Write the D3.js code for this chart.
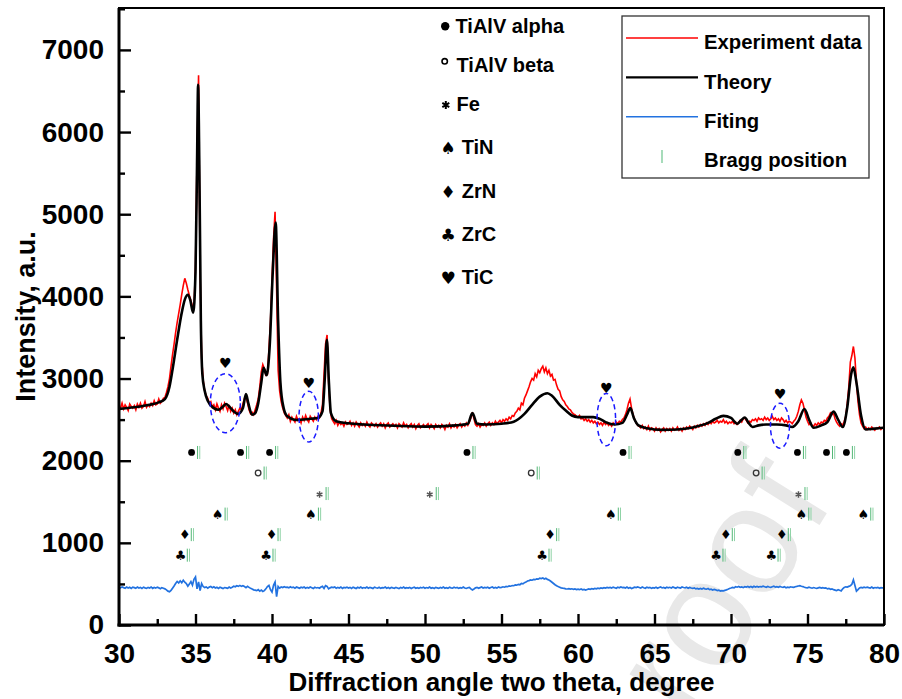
<!DOCTYPE html>
<html><head><meta charset="utf-8">
<script src="https://cdn.jsdelivr.net/npm/d3@7"></script>
<style>
body{margin:0;background:#fff}
svg{display:block}
text{font-family:"Liberation Sans",Arial,Helvetica,sans-serif;font-weight:bold}
</style>
</head><body>
<svg id="chart" width="902" height="699"></svg>
<script>
// ---------------- DATA ----------------
const angleStart = 30, angleStep = 0.1, angleCount = 501;

const experiment = [
2660,2640,2700,2630,2680,2650,2610,2690,2660,2640,
2670,2620,2690,2650,2700,2640,2660,2720,2650,2680,
2660,2700,2670,2730,2680,2690,2750,2700,2720,2760,
2770,2830,2900,3000,3150,3290,3420,3560,3680,3790,
3900,4020,4130,4220,4160,4080,4010,3950,3880,3870,
4350,5700,6690,4300,3250,2980,2850,2790,2760,2700,
2720,2650,2680,2620,2690,2640,2600,2680,2630,2700,
2660,2610,2680,2600,2640,2580,2620,2560,2600,2640,
2620,2690,2760,2780,2700,2620,2570,2590,2560,2620,
2680,2750,2900,3080,3170,3120,3040,3050,3350,3700,
4200,4700,5030,4100,3100,2850,2720,2640,2580,2550,
2520,2560,2480,2530,2500,2470,2540,2490,2510,2460,
2530,2490,2550,2500,2470,2540,2510,2480,2530,2500,
2540,2520,2580,2680,3050,3420,3530,2950,2620,2510,
2480,2450,2490,2430,2470,2440,2460,2420,2470,2440,
2450,2480,2430,2460,2420,2470,2440,2410,2460,2430,
2450,2420,2470,2430,2410,2460,2440,2420,2450,2410,
2440,2460,2420,2450,2400,2440,2460,2410,2430,2450,
2420,2440,2400,2450,2430,2410,2460,2420,2440,2400,
2430,2450,2410,2440,2390,2430,2450,2400,2420,2440,
2410,2430,2450,2400,2440,2420,2390,2440,2410,2430,
2400,2440,2420,2380,2430,2410,2450,2400,2430,2410,
2440,2400,2430,2450,2410,2440,2420,2460,2430,2470,
2520,2590,2510,2440,2420,2450,2410,2440,2430,2460,
2420,2450,2470,2430,2460,2440,2480,2450,2470,2490,
2460,2500,2480,2510,2490,2530,2510,2550,2540,2580,
2600,2640,2620,2700,2680,2760,2800,2850,2900,2960,
3000,2980,3060,3020,3100,3070,3120,3150,3080,3130,
3060,3100,3030,3050,2980,2990,2920,2870,2850,2780,
2740,2720,2680,2660,2630,2620,2590,2570,2560,2540,
2530,2550,2510,2520,2490,2510,2480,2500,2470,2490,
2460,2480,2450,2470,2440,2460,2430,2470,2440,2460,
2430,2450,2420,2460,2440,2470,2450,2480,2470,2500,
2520,2560,2620,2700,2750,2640,2560,2500,2460,2430,
2420,2400,2430,2390,2410,2380,2420,2370,2400,2390,
2360,2400,2370,2390,2350,2380,2400,2360,2390,2370,
2390,2360,2400,2370,2380,2410,2370,2390,2360,2400,
2380,2410,2390,2420,2400,2380,2420,2400,2430,2410,
2440,2420,2450,2430,2460,2440,2470,2450,2480,2460,
2470,2490,2460,2480,2470,2500,2460,2480,2450,2470,
2460,2480,2450,2470,2440,2460,2490,2470,2510,2520,
2490,2460,2480,2470,2500,2490,2510,2480,2520,2500,
2510,2490,2530,2500,2520,2490,2510,2540,2500,2520,
2490,2510,2480,2520,2500,2470,2490,2460,2480,2470,
2450,2480,2500,2540,2600,2680,2740,2700,2620,2530,
2480,2440,2460,2430,2420,2450,2430,2460,2440,2470,
2460,2490,2480,2520,2540,2580,2560,2580,2510,2470,
2440,2420,2450,2430,2480,2540,2700,2900,3200,3280,
3390,3250,2950,2720,2560,2460,2420,2390,2410,2380,
2400,2380,2410,2390,2370,2400,2390,2410,2380,2400,
2390];

const fitting = [
458,452,464,455,447,462,450,459,446,461,
455,447,463,451,458,444,460,452,446,458,
451,463,446,456,449,461,452,441,455,448,
440,428,412,405,422,448,475,505,530,512,
538,515,545,520,505,472,498,528,485,555,
585,440,525,420,505,468,455,463,448,461,
468,455,466,451,460,446,459,452,443,456,
452,446,462,451,459,472,465,478,470,482,
470,478,468,455,470,458,446,438,428,424,
418,430,412,425,408,418,440,468,482,430,
400,482,522,345,470,448,462,455,465,457,
460,452,466,455,461,449,463,455,447,460,
452,462,448,458,450,463,454,445,459,451,
456,448,462,470,445,480,470,440,452,460,
455,462,448,458,451,463,446,457,452,460,
450,458,446,461,452,445,459,451,463,448,
456,450,462,447,458,452,445,460,453,448,
459,446,455,451,462,448,456,444,458,452,
447,458,451,443,456,449,461,447,454,450,
458,445,453,460,448,455,446,457,451,459,
448,456,450,462,447,455,444,458,452,446,
457,451,463,448,455,446,459,452,448,460,
451,457,446,455,449,462,450,445,453,458,
440,426,438,452,458,447,455,462,450,457,
452,460,448,456,463,451,458,449,462,455,
458,465,460,470,466,475,472,480,478,488,
485,495,490,505,500,515,522,535,540,548,
545,555,552,562,558,570,565,572,560,568,
555,548,535,520,505,490,478,468,460,452,
448,445,440,438,442,436,441,434,439,432,
436,430,438,428,434,426,433,440,435,442,
438,446,440,448,443,451,446,455,449,457,
452,458,450,461,454,447,459,452,462,455,
458,450,462,448,456,445,452,460,455,463,
457,449,462,454,447,460,452,458,446,455,
450,459,447,456,462,451,457,448,460,453,
459,451,463,455,448,461,454,450,462,456,
452,460,448,457,450,445,452,440,446,438,
445,438,447,440,436,444,430,436,425,432,
428,420,425,414,418,415,422,428,435,445,
450,458,452,465,460,468,458,463,455,466,
462,470,460,468,458,472,463,470,461,468,
464,472,466,460,470,463,458,466,472,461,
467,460,470,463,458,466,452,460,455,465,
460,458,466,470,475,478,472,468,460,455,
452,460,454,448,456,450,445,452,458,450,
455,448,452,440,446,435,440,430,425,418,
430,422,415,440,458,465,462,470,478,495,
550,480,412,430,450,458,452,460,454,461,
455,450,462,448,456,452,458,447,455,451,
452];

const theory = [
[30.0,2630],[31.0,2650],[32.0,2680],[32.6,2710],[33.0,2750],[33.3,2900],[33.5,3110],
[33.8,3470],[34.1,3800],[34.3,3960],[34.5,4020],[34.65,3960],[34.85,3800],[35.0,4300],
[35.1,5600],[35.17,6575],[35.25,5600],[35.35,3700],[35.45,3050],[35.6,2850],[35.8,2730],
[36.2,2640],[36.5,2620],[36.8,2660],[37.0,2690],[37.2,2660],[37.5,2600],[37.8,2570],
[38.1,2640],[38.3,2810],[38.45,2700],[38.7,2560],[38.9,2580],[39.1,2700],[39.3,2950],
[39.45,3130],[39.65,3040],[39.85,3400],[40.05,4300],[40.24,4900],[40.4,3700],[40.55,2950],
[40.75,2650],[41.0,2540],[41.6,2495],[42.5,2510],[43.0,2520],[43.3,2600],[43.45,3000],
[43.59,3470],[43.72,2950],[43.85,2580],[44.2,2480],[45.0,2455],[46.0,2440],[48.0,2425],
[50.0,2415],[52.0,2430],[52.8,2450],[53.1,2580],[53.4,2450],[54.0,2440],[55.0,2450],
[55.8,2475],[56.5,2570],[57.0,2680],[57.5,2780],[58.0,2820],[58.3,2790],[58.8,2680],
[59.2,2610],[59.6,2550],[60.0,2530],[61.0,2530],[61.4,2510],[61.8,2470],[62.4,2440],
[62.9,2460],[63.2,2560],[63.42,2640],[63.65,2520],[63.95,2430],[64.5,2395],[65.5,2375],
[66.5,2380],[67.5,2405],[68.5,2460],[69.0,2510],[69.5,2545],[70.0,2520],[70.4,2450],
[70.65,2490],[70.9,2525],[71.15,2460],[71.4,2410],[71.8,2430],[72.3,2440],[73.0,2440],
[73.6,2430],[74.0,2410],[74.4,2480],[74.8,2630],[75.1,2500],[75.4,2400],[75.9,2430],
[76.3,2470],[76.7,2597],[77.0,2500],[77.3,2410],[77.6,2650],[77.85,3050],[78.0,3137],
[78.2,2950],[78.5,2550],[78.8,2380],[79.2,2385],[79.6,2395],[80.0,2400]];

const xTicks = [30,35,40,45,50,55,60,65,70,75,80];
const xMinorTicks = [32.5,37.5,42.5,47.5,52.5,57.5,62.5,67.5,72.5,77.5];
const yTicks = [0,1000,2000,3000,4000,5000,6000,7000];
const yMinorTicks = [500,1500,2500,3500,4500,5500,6500,7500];

const seriesNames = ["Experiment data","Theory","Fiting","Bragg position"];
const seriesColors = ["#ff0000","#000000","#2272e0","#6cc48c"];

const phaseNames = ["TiAlV alpha","TiAlV beta","Fe","TiN","ZrN","ZrC","TiC"];
const phaseSymbols = ["●","○","*","♠","♦","♣","♥"];
// Bragg reflection positions (2θ) for each phase, drawn in rows
const braggRows = [
  [35.2,38.4,40.3,53.2,63.4,70.9,74.8,76.7,78.0],   // TiAlV alpha
  [39.55,57.4,72.1],                                // TiAlV beta
  [43.6,50.8,74.9],                                 // Fe
  [37.0,43.1,62.7,75.15,79.2],                      // TiN
  [34.79,40.46,58.67,70.15,73.81],                  // ZrN
  [34.53,40.13,58.17,69.54,73.14]                   // ZrC
];
const braggRowLevels = [2100,1850,1600,1350,1100,850];
// TiC markers (heart) and dashed ellipses
const ticAngles = [36.95,42.4,61.85,73.2];
const ticHeartLevels = [3190,2940,2880,2810];
const ticEllipseLevels = [2700,2536,2500,2425];

// ---------------- CHART ----------------
const svg = d3.select("#chart");
const L = 119, R = 884, T = 8, B = 625;
const x = d3.scaleLinear().domain([30,80]).range([L,R]);
const y = d3.scaleLinear().domain([0,7510]).range([B,T]);

// watermark
svg.append("text").text("proof")
  .attr("transform","translate(835,500) rotate(-58)")
  .attr("text-anchor","end")
  .style("font-weight","normal").style("font-size","155px").style("fill","#e8e8e8");

const angles = d3.range(angleCount).map(i => +(angleStart + i*angleStep).toFixed(1));
const expData = angles.map((a,i)=>[a,experiment[i]]);
const fitData = angles.map((a,i)=>[a,fitting[i]]);

svg.append("clipPath").attr("id","clip").append("rect")
  .attr("x",L).attr("y",T).attr("width",R-L).attr("height",B-T);
const plot = svg.append("g").attr("clip-path","url(#clip)");

const line = d3.line().x(d=>x(d[0])).y(d=>y(d[1]));
plot.append("path").datum(fitData).attr("d",line)
  .attr("fill","none").attr("stroke",seriesColors[2]).attr("stroke-width",1.7);
plot.append("path").datum(expData).attr("d",line)
  .attr("fill","none").attr("stroke",seriesColors[0]).attr("stroke-width",1.6);
plot.append("path").datum(theory).attr("d",d3.line().x(d=>x(d[0])).y(d=>y(d[1])).curve(d3.curveMonotoneX))
  .attr("fill","none").attr("stroke",seriesColors[1]).attr("stroke-width",2.6).attr("stroke-linejoin","round");

// Bragg rows
const symbolOffset = [7,7,7.5,8.5,7.5,7.8];
braggRows.forEach((row,ri)=>{
  const g = svg.append("g");
  const cy = y(braggRowLevels[ri]);
  row.forEach(a=>{
    const cx = x(a);
    g.append("line").attr("x1",cx-1).attr("x2",cx-1).attr("y1",cy-6.5).attr("y2",cy+6.5)
      .attr("stroke","#55b878").attr("stroke-width",1);
    g.append("line").attr("x1",cx+1.2).attr("x2",cx+1.2).attr("y1",cy-6.5).attr("y2",cy+6.5)
      .attr("stroke","#8fd3a6").attr("stroke-width",1);
    const sx = cx - symbolOffset[ri];
    if (ri===0) g.append("circle").attr("cx",sx).attr("cy",cy).attr("r",3.4).attr("fill","#000");
    else if (ri===1) g.append("circle").attr("cx",sx).attr("cy",cy).attr("r",2.8).attr("fill","none").attr("stroke","#333").attr("stroke-width",1.3);
    else if (ri===2) g.append("path").attr("d",d3.symbol(d3.symbolAsterisk,30)()).attr("transform",`translate(${sx},${cy+1})`).attr("stroke","#555").attr("stroke-width",1.5);
    else g.append("text").text(phaseSymbols[ri]).attr("x",sx).attr("y",cy+4.5)
      .attr("text-anchor","middle").style("font-family","DejaVu Sans").style("font-size","13px").style("font-weight","normal");
  });
});

// TiC hearts and ellipses
const ellipseR = [[15,29.5],[9.7,25.3],[9.3,26.2],[9.5,22.5]];
ticAngles.forEach((a,i)=>{
  svg.append("ellipse").attr("cx",x(a)).attr("cy",y(ticEllipseLevels[i]))
    .attr("rx",ellipseR[i][0]).attr("ry",ellipseR[i][1])
    .attr("fill","none").attr("stroke","#1a1aff").attr("stroke-width",1.5).attr("stroke-dasharray","5,3.5");
  svg.append("text").text(phaseSymbols[6]).attr("x",x(a)).attr("y",y(ticHeartLevels[i])+5)
    .attr("text-anchor","middle").style("font-family","DejaVu Sans").style("font-size","14px").style("font-weight","normal");
});

// Axes
const yAxis = svg.append("g").attr("transform",`translate(${L},0)`)
  .call(d3.axisLeft(y).tickValues(yTicks).tickSize(-12).tickSizeOuter(0).tickPadding(15).tickFormat(d3.format("d")));
const yMinor = svg.append("g").attr("transform",`translate(${L},0)`)
  .call(d3.axisLeft(y).tickValues(yMinorTicks).tickSize(-6).tickSizeOuter(0).tickFormat(""));
const xAxis = svg.append("g").attr("transform",`translate(0,${B})`)
  .call(d3.axisBottom(x).tickValues(xTicks).tickSize(-11).tickSizeOuter(0).tickPadding(18).tickFormat(d3.format("d")));
const xMinor = svg.append("g").attr("transform",`translate(0,${B})`)
  .call(d3.axisBottom(x).tickValues(xMinorTicks).tickSize(-6).tickSizeOuter(0).tickFormat(""));
[yAxis,yMinor,xAxis,xMinor].forEach(g=>{
  g.selectAll(".tick line").attr("stroke","#000").attr("stroke-width",2.4);
  g.selectAll(".tick text").attr("fill","#000").style("font-size","28px").attr("font-family",null);
  g.select(".domain").remove();
});
svg.append("rect").attr("x",L).attr("y",T).attr("width",R-L).attr("height",B-T)
  .attr("fill","none").attr("stroke","#000").attr("stroke-width",2);
svg.append("line").attr("x1",L).attr("x2",L).attr("y1",T).attr("y2",B+1.5).attr("stroke","#000").attr("stroke-width",3);
svg.append("line").attr("x1",L-1.5).attr("x2",R).attr("y1",B).attr("y2",B).attr("stroke","#000").attr("stroke-width",3);

// Axis titles
svg.append("text").text("Diffraction angle two theta, degree")
  .attr("x",(L+R)/2).attr("y",691).attr("text-anchor","middle").style("font-size","26px");
svg.append("text").text("Intensity, a.u.")
  .attr("transform",`translate(35,${(T+B)/2}) rotate(-90)`).attr("text-anchor","middle").style("font-size","27px");

// Series legend
const lg = svg.append("g");
lg.append("rect").attr("x",622).attr("y",16).attr("width",247).attr("height",162)
  .attr("fill","#fff").attr("stroke","#333").attr("stroke-width",1.3);
const legY = [38,77.3,116.7];
const legTextY = [49.3,89,128.3,167];
[0,1,2].forEach(i=>{
  lg.append("line").attr("x1",626).attr("x2",698).attr("y1",legY[i]).attr("y2",legY[i])
    .attr("stroke",seriesColors[i]).attr("stroke-width",i===1?2.2:1.6);
});
lg.append("line").attr("x1",662).attr("x2",662).attr("y1",150).attr("y2",163)
  .attr("stroke",seriesColors[3]).attr("stroke-width",1.2);
seriesNames.forEach((n,i)=>{
  lg.append("text").text(n).attr("x",704).attr("y",legTextY[i]).style("font-size","20.3px");
});

// Phase legend
const pg = svg.append("g");
const phaseTextY = [32.5,71.7,111,154.3,197.7,241,284.3];
const phaseTextX = [455.5,456.5,456.5,461.7,461.7,461.7,461.7];
phaseNames.forEach((n,i)=>{
  pg.append("text").text(n).attr("x",phaseTextX[i]).attr("y",phaseTextY[i]).style("font-size","20px");
});
pg.append("circle").attr("cx",445.2).attr("cy",26.2).attr("r",4.2).attr("fill","#000");
pg.append("circle").attr("cx",444.7).attr("cy",61.3).attr("r",2.7).attr("fill","none").attr("stroke","#000").attr("stroke-width",1.6);
pg.append("path").attr("d",d3.symbol(d3.symbolAsterisk,45)()).attr("transform","translate(445.8,105)").attr("stroke","#000").attr("stroke-width",2);
[3,4,5,6].forEach((k,j)=>{
  pg.append("text").text(phaseSymbols[k]).attr("x",448).attr("y",[148.3,191.7,234.5,278.3][j]+6)
    .attr("text-anchor","middle").style("font-family","DejaVu Sans").style("font-size","17px").style("font-weight","normal");
});
</script>
</body></html>
